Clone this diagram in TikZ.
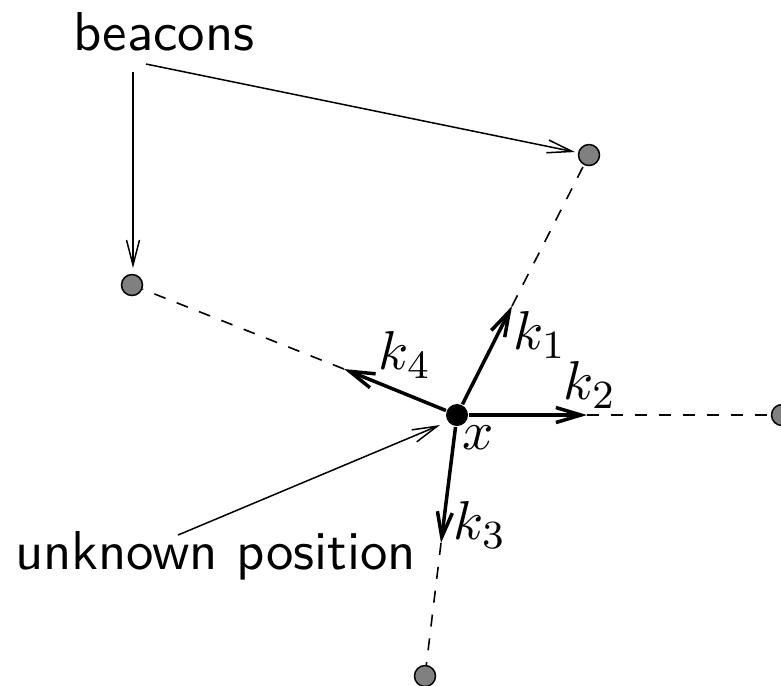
\documentclass[tikz,border=0pt]{standalone}
\usepackage{fontspec}
\usetikzlibrary{arrows.meta}
\tikzset{
  beacon/.style={circle,draw=black,fill=gray,line width=0.3pt,inner sep=0pt,minimum size=4.2pt},
  posdot/.style={circle,fill=black,inner sep=0pt,minimum size=4.4pt},
  vecarrow/.style={line width=0.7pt,-{Straight Barb[length=5pt,width=3pt]}},
  thinarrow/.style={line width=0.3pt,-{Straight Barb[length=5pt,width=2.6pt]}},
  ray/.style={line width=0.32pt,dash pattern=on 2.4pt off 2.4pt},
  lbl/.style={inner sep=0pt,font=\fontsize{10.95}{13}\selectfont},
  txt/.style={inner sep=0pt,font=\fontsize{10.95}{13}\selectfont\sffamily}
}
\begin{document}
\begin{tikzpicture}[x=0.2pt,y=-0.2pt]
\useasboundingbox (0,0) rectangle (781,685);
% nodes
\node[posdot] (X) at (457,415) {};
\node[beacon] (B1) at (589,155) {};
\node[beacon] (B2) at (782,415) {};
\node[beacon] (B3) at (425,676) {};
\node[beacon] (B4) at (132,285) {};
% tips
\coordinate (T1) at (512,306);
\coordinate (T2) at (587,415);
\coordinate (T3) at (441,543);
\coordinate (T4) at (344,369);
% dashed rays
\draw[ray] (T1) -- (B1);
\draw[ray] (T2) -- (B2);
\draw[ray] (T3) -- (B3);
\draw[ray] (T4) -- (B4);
% vectors
\draw[vecarrow] (X) -- (T1);
\draw[vecarrow] (X) -- (T2);
\draw[vecarrow] (X) -- (T3);
\draw[vecarrow] (X) -- (T4);
% labels
\node[lbl] (k1) at (540,335) {$k_1$};
\node[lbl] (k2) at (590,385) {$k_2$};
\node[lbl] (k3) at (480,525) {$k_3$};
\node[lbl] (k4) at (405,355) {$k_4$};
\node[lbl] (xl) at (478,438) {$x$};
% texts
\node[txt,anchor=base west] (beac) at (72,50) {beacons};
\node[txt,anchor=base west] (unk) at (14,569) {unknown position};
\coordinate (s1) at (146,64);
\coordinate (s2) at (133,72);
\coordinate (s3) at (178,535);
\draw[thinarrow] (s1) -- (575,152);
\draw[thinarrow] (s2) -- (133,268);
\draw[thinarrow] (s3) -- (440,425);
\end{tikzpicture}
\end{document}
